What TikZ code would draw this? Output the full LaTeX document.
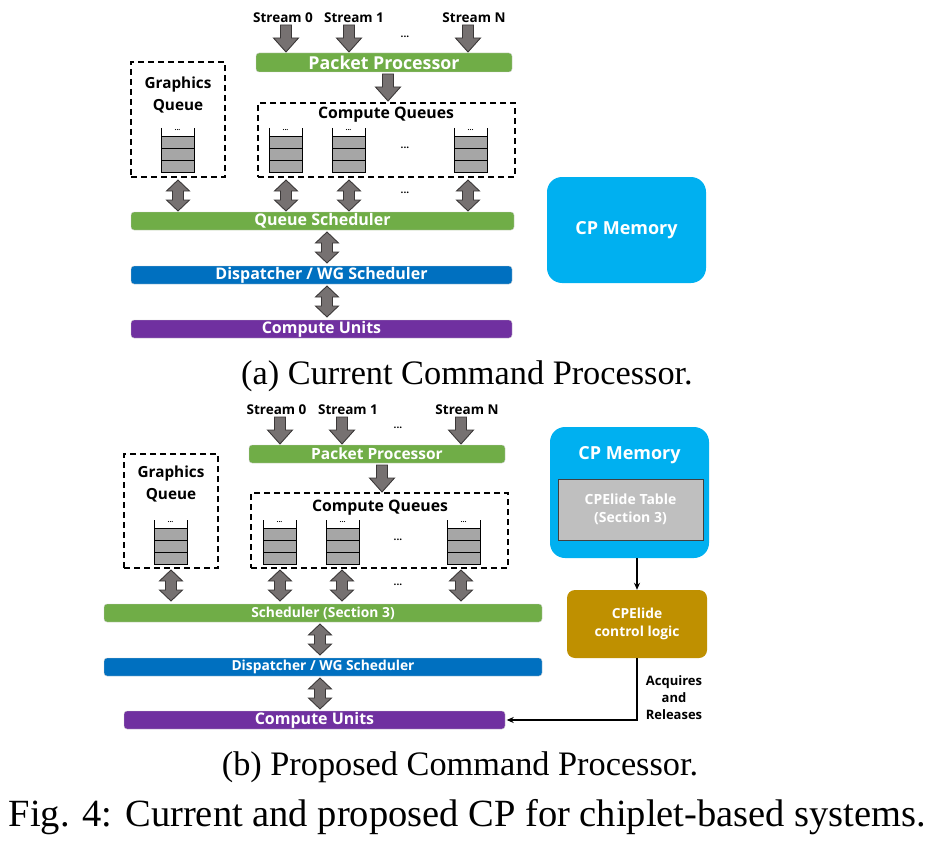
\documentclass[tikz,border=0pt]{standalone}
\usepackage{fontspec}
\setmainfont{Liberation Serif}
\newfontfamily\uif{Open Sans}
\usetikzlibrary{arrows.meta}
\definecolor{cgreen}{HTML}{70AD47}
\definecolor{cblue}{HTML}{0070C0}
\definecolor{cpurple}{HTML}{7030A0}
\definecolor{ccyan}{HTML}{00B0F0}
\definecolor{cgold}{HTML}{BF9000}
\definecolor{cqgray}{HTML}{A6A6A6}
\definecolor{ctgray}{HTML}{BFBFBF}
\definecolor{carrfill}{HTML}{767171}
\definecolor{carrline}{HTML}{3B3838}
\newcommand\uifont[1]{\uif\bfseries\fontsize{#1}{#1}\selectfont}
\newcommand\qicon[3]{%
  \fill[cqgray] (#1,#2+8) rectangle (#1+33,#2+44);
  \draw[line width=0.9pt] (#1,#2) -- (#1,#2+44) -- (#1+33,#2+44) -- (#1+33,#2);
  \draw[line width=0.9pt] (#1,#2+8) -- (#1+33,#2+8) (#1,#2+20) -- (#1+33,#2+20) (#1,#2+32) -- (#1+33,#2+32);
  \node[font=\uifont{7}] (#3) at (#1+16.5,#2+2.5) {...};}
\newcommand\downarr[2]{%
  \draw[barrow, shift={(#1,#2)}] (-5.5,0) -- (5.5,0) -- (5.5,13) -- (12.5,13) -- (0,27) -- (-12.5,13) -- (-5.5,13) -- cycle;}
\newcommand\dblarr[2]{%
  \draw[barrow, shift={(#1,#2)}] (0,0) -- (11.5,11) -- (5.5,11) -- (5.5,20) -- (11.5,20) -- (0,31) -- (-11.5,20) -- (-5.5,20) -- (-5.5,11) -- (-11.5,11) -- cycle;}
\begin{document}
\begin{tikzpicture}[x=1pt,y=-1pt,
  bar/.style={rounded corners=3pt, inner sep=0pt, text=white, draw=white!80!black, line width=0.4pt},
  barrow/.style={fill=carrfill, draw=carrline, line width=0.9pt, line join=miter},
  dbox/.style={draw=black, dash pattern=on 6pt off 4pt, line width=1.4pt, inner sep=0pt},
  lbl/.style={font=\uifont{13.5}, inner sep=0pt},
  dots/.style={font=\uifont{10}, inner sep=0pt},
  captxt/.style={font=\fontsize{34.3}{34.3}\selectfont, inner sep=0pt}]
\useasboundingbox (0,0) rectangle (937,848);
% ================= (a) =================
\node[lbl] (as0) at (283,18) {Stream 0};
\node[lbl] (as1) at (354,18) {Stream 1};
\node[lbl] (asn) at (474,18) {Stream N};
\node[dots] (adots1) at (405,37) {...};
\downarr{286}{25}
\downarr{349}{25}
\downarr{468}{25}
\node[bar, fill=cgreen, minimum width=256, minimum height=19, font=\uifont{17.8}] (app) at (384,62.5) {Packet Processor};
\downarr{388}{74}
\node[dbox, minimum width=94, minimum height=115] (agq) at (178,119.5) {};
\node[font=\uifont{15.3}, align=center, inner sep=0pt] (agqt) at (178,95) {Graphics\\[6.5pt]Queue};
\node[dbox, minimum width=257, minimum height=74] (acq) at (386.5,140) {};
\node[font=\uifont{15.8}, inner sep=0pt] (acqt) at (386,115) {Compute Queues};
\qicon{161}{128}{aq0}
\qicon{269}{128}{aq1}
\qicon{332}{128}{aq2}
\qicon{454}{128}{aq3}
\node[dots] (adots2) at (405,148) {...};
\dblarr{178}{180}
\dblarr{286}{180}
\dblarr{349}{180}
\dblarr{468}{180}
\node[dots] (adots3) at (405,193) {...};
\node[bar, fill=cgreen, minimum width=383, minimum height=18, font=\uifont{16}] (aqs) at (322.5,221) {Queue Scheduler};
\dblarr{327}{232}
\node[bar, fill=cblue, minimum width=381, minimum height=18, font=\uifont{16}] (adisp) at (321.5,275) {Dispatcher / WG Scheduler};
\dblarr{327}{286}
\node[bar, fill=cpurple, minimum width=381, minimum height=18, font=\uifont{16}] (acu) at (321.5,329) {Compute Units};
\node[fill=ccyan, rounded corners=15pt, minimum width=159, minimum height=106, inner sep=0pt, text=white, font=\uifont{18}] (amem) at (626.5,230) {CP Memory};
\node[captxt] (capa) at (467,376) {(a) Current Command Processor.};
% ================= (b) =================
\node[lbl] (bs0) at (276.5,410) {Stream 0};
\node[lbl] (bs1) at (348,410) {Stream 1};
\node[lbl] (bsn) at (467,410) {Stream N};
\node[dots] (bdots1) at (398,428) {...};
\downarr{280}{417}
\downarr{342}{417}
\downarr{461}{417}
\node[bar, fill=cgreen, minimum width=256, minimum height=18, font=\uifont{15.5}] (bpp) at (377,454) {Packet Processor};
\downarr{382}{465}
\node[dbox, minimum width=94, minimum height=114] (bgq) at (171,511) {};
\node[font=\uifont{15.3}, align=center, inner sep=0pt] (bgqt) at (171,484) {Graphics\\[6.5pt]Queue};
\node[dbox, minimum width=257, minimum height=75] (bcq) at (379.5,530.5) {};
\node[font=\uifont{15.8}, inner sep=0pt] (bcqt) at (380,508) {Compute Queues};
\qicon{154}{520}{bq0}
\qicon{263}{520}{bq1}
\qicon{326}{520}{bq2}
\qicon{447}{520}{bq3}
\node[dots] (bdots2) at (398,540) {...};
\dblarr{171}{570}
\dblarr{280}{570}
\dblarr{342}{570}
\dblarr{461}{570}
\node[dots] (bdots3) at (398,585) {...};
\node[bar, fill=cgreen, minimum width=438, minimum height=18, font=\uifont{13.8}] (bsch) at (323,613) {Scheduler (Section 3)};
\dblarr{320}{624}
\node[bar, fill=cblue, minimum width=438, minimum height=18, font=\uifont{13.8}] (bdisp) at (323,667) {Dispatcher / WG Scheduler};
\dblarr{320}{678}
\node[bar, fill=cpurple, minimum width=381, minimum height=18, font=\uifont{16}] (bcu) at (314.5,720) {Compute Units};
\node[fill=ccyan, rounded corners=15pt, minimum width=159, minimum height=131, inner sep=0pt] (bmem) at (629.5,492.5) {};
\node[text=white, font=\uifont{18}, inner sep=0pt] (bmemt) at (629.5,455) {CP Memory};
\node[fill=ctgray, draw=black!75, line width=1pt, minimum width=145, minimum height=61, inner sep=0pt, text=white, font=\uifont{14}, align=center] (btab) at (630.5,509.5) {CPElide Table\\[4pt](Section 3)};
\node[fill=cgold, rounded corners=8pt, minimum width=140, minimum height=68, inner sep=0pt, text=white, font=\uifont{13.8}, align=center] (bctl) at (637,624) {CPElide\\[4pt]control logic};
\draw[line width=1.6pt, -{Stealth[length=7pt,width=6pt]}] (bmem.south -| bctl.north) -- (bctl.north);
\coordinate (bturn) at (bctl.south |- bcu.east);
\draw[line width=1.6pt, -{Stealth[length=7pt,width=6pt]}] (bctl.south) -- (bturn) -- ([xshift=1.5pt]bcu.east);
\node[font=\uifont{13}, align=center, inner sep=0pt] (bacq) at (674,697.5) {Acquires\\[4pt]and\\[4pt]Releases};
\node[captxt] (capb) at (460,767) {(b) Proposed Command Processor.};
\node[font=\fontsize{38.5}{38.5}\selectfont, inner sep=0pt] (capf) at (467.5,817) {Fig. 4: Current and proposed CP for chiplet-based systems.};
\end{tikzpicture}
\end{document}
